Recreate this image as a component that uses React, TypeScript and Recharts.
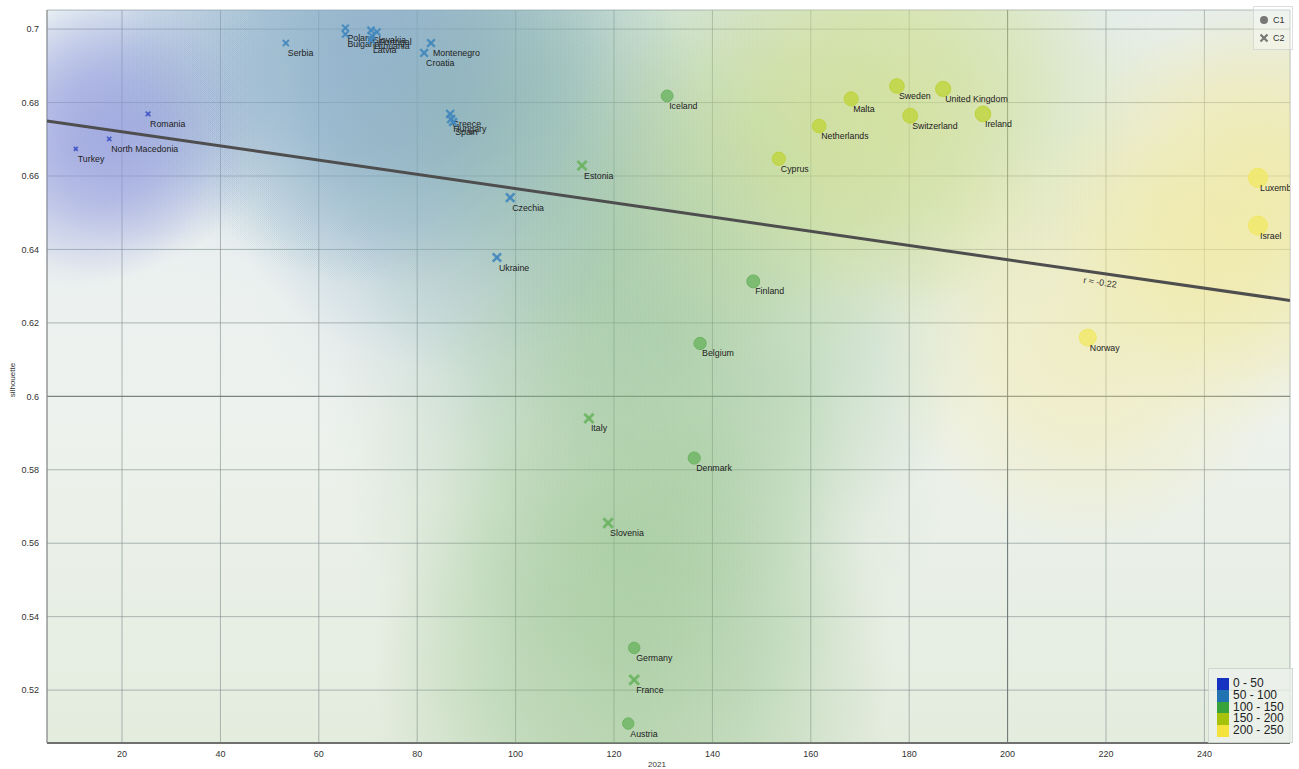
import React from "react";
import {
  ScatterChart,
  Scatter,
  XAxis,
  YAxis,
  CartesianGrid,
  ReferenceLine,
} from "recharts";

// cluster C1 (circles)
const c1Names = [
  "Iceland", "Austria", "Germany", "Denmark", "Belgium", "Finland", "Cyprus",
  "Netherlands", "Malta", "Sweden", "Switzerland", "United Kingdom", "Ireland",
  "Norway", "Luxembourg", "Israel",
];
const c1X = [130.8, 122.9, 124.1, 136.3, 137.5, 148.3, 153.5, 161.7, 168.2, 177.5, 180.2, 186.9, 195.0, 216.3, 250.9, 250.9];
const c1Y = [0.6818, 0.5109, 0.5315, 0.5832, 0.6144, 0.6313, 0.6647, 0.6736, 0.681, 0.6845, 0.6764, 0.6837, 0.6769, 0.616, 0.6595, 0.6465];

// cluster C2 (crosses)
const c2Names = [
  "Turkey", "North Macedonia", "Romania", "Serbia", "Poland", "Bulgaria",
  "Slovakia", "Portugal", "Lithuania", "Latvia", "Montenegro", "Croatia",
  "Greece", "Hungary", "Spain", "Czechia", "Ukraine", "Estonia", "Italy",
  "Slovenia", "France",
];
const c2X = [10.6, 17.4, 25.3, 53.3, 65.4, 65.4, 70.6, 71.8, 70.8, 70.6, 82.8, 81.4, 86.7, 86.9, 87.3, 98.9, 96.2, 113.5, 114.9, 118.8, 124.1];
const c2Y = [0.6674, 0.6701, 0.6769, 0.6962, 0.7003, 0.6986, 0.6997, 0.6992, 0.6981, 0.697, 0.6962, 0.6935, 0.6769, 0.6755, 0.6747, 0.6541, 0.6378, 0.6628, 0.594, 0.5655, 0.5228];

const xTicks = [20, 40, 60, 80, 100, 120, 140, 160, 180, 200, 220, 240];
const yTicks = [0.52, 0.54, 0.56, 0.58, 0.6, 0.62, 0.64, 0.66, 0.68, 0.7];
const X_DOMAIN = [4.75, 257.4];
const Y_DOMAIN = [0.5056, 0.7052];

const binLabels = ["0 - 50", "50 - 100", "100 - 150", "150 - 200", "200 - 250"];

// regression line endpoints and its r label
const trend = [
  { x: 4.75, y: 0.675 },
  { x: 257.4, y: 0.6261 },
];
const rLabel = [{ x: 218.8, y: 0.631, text: "r ≈ -0.22" }];

const SWATCH = ["#1532c0", "#2273b2", "#38a23b", "#a7c20d", "#f4e33c"];
const MARK = ["#3d52c4", "#4287bd", "#6cb462", "#bfd43c", "#f1e866"];
const HALO = [
  { color: "#8c94dc", r: 140, op: 0.4 },
  { color: "#7fa6c2", r: 250, op: 0.14 },
  { color: "#86bb7e", r: 260, op: 0.2 },
  { color: "#cddd88", r: 220, op: 0.2 },
  { color: "#f3e88e", r: 210, op: 0.45 },
];

const binOf = (v: number) => Math.min(4, Math.floor(v / 50));

const c1Data = c1Names.map((name, i) => ({ name, x: c1X[i], y: c1Y[i], bin: binOf(c1X[i]) }));
const c2Data = c2Names.map((name, i) => ({ name, x: c2X[i], y: c2Y[i], bin: binOf(c2X[i]) }));
const allData = [...c2Data, ...c1Data];

const FONT = "'Liberation Sans', Arial, sans-serif";

const radiusOf = (v: number) => 2 + v * 0.03;

const HaloShape = (props: any) => {
  const { cx, cy, payload, index } = props;
  if (cx == null || cy == null) return null;
  const h = HALO[payload.bin];
  const id = `halo-${index}`;
  return (
    <g>
      <defs>
        <radialGradient id={id}>
          <stop offset="0%" stopColor={h.color} stopOpacity={h.op} />
          <stop offset="45%" stopColor={h.color} stopOpacity={h.op * 0.7} />
          <stop offset="100%" stopColor={h.color} stopOpacity={0} />
        </radialGradient>
      </defs>
      <circle cx={cx} cy={cy} r={h.r} fill={`url(#${id})`} />
    </g>
  );
};

const PointLabel = ({ x, y, text }: any) => (
  <text x={x + 2} y={y + 13} fontSize={8.8} fill="#222" fontFamily={FONT}>
    {text}
  </text>
);

const CircleShape = (props: any) => {
  const { cx, cy, payload } = props;
  if (cx == null) return null;
  const r = radiusOf(payload.x);
  const c = MARK[payload.bin];
  return (
    <g>
      <circle cx={cx} cy={cy} r={r} fill={c} fillOpacity={0.8} stroke={c} strokeWidth={1} />
      <PointLabel x={cx} y={cy} text={payload.name} />
    </g>
  );
};

const CrossShape = (props: any) => {
  const { cx, cy, payload } = props;
  if (cx == null) return null;
  const r = radiusOf(payload.x) * 0.85;
  const c = MARK[payload.bin];
  const w = Math.max(1.7, r * 0.62);
  return (
    <g>
      <g stroke={c} strokeWidth={w} strokeOpacity={0.9}>
        <line x1={cx - r} y1={cy - r} x2={cx + r} y2={cy + r} />
        <line x1={cx - r} y1={cy + r} x2={cx + r} y2={cy - r} />
      </g>
      <PointLabel x={cx} y={cy} text={payload.name} />
    </g>
  );
};

const RLabelShape = (props: any) => {
  const { cx, cy, payload } = props;
  if (cx == null) return null;
  return (
    <text
      x={cx}
      y={cy}
      fontSize={9}
      fill="#333"
      fontFamily={FONT}
      textAnchor="middle"
      dominantBaseline="central"
      transform={`rotate(8.2 ${cx} ${cy})`}
    >
      {payload.text}
    </text>
  );
};

const NoShape = () => null;

const fmtY = (v: number) => String(+v.toFixed(2));

const App: React.FC = () => {
  return (
    <div style={{ position: "absolute", left: 0, top: 0, width: 1299, height: 769, background: "#fff", fontFamily: FONT }}>
      {/* plot background */}
      <div
        style={{
          position: "absolute",
          left: 47,
          top: 10,
          width: 1243,
          height: 733,
          background: "linear-gradient(180deg, #e6eef2 0%, #eef2ee 55%, #e4ecde 100%)",
        }}
      />
      <div style={{ position: "absolute", left: 0, top: 0 }}>
        <ScatterChart width={1299} height={769} margin={{ top: 10, right: 9, bottom: 0, left: 0 }}>
          <XAxis
            type="number"
            dataKey="x"
            domain={X_DOMAIN}
            ticks={xTicks}
            allowDataOverflow
            height={26}
            tickLine={false}
            axisLine={{ stroke: "#707070", strokeWidth: 2 }}
            tick={{ fontSize: 9, fill: "#333", fontFamily: FONT }}
          />
          <YAxis
            type="number"
            dataKey="y"
            domain={Y_DOMAIN}
            ticks={yTicks}
            allowDataOverflow
            width={47}
            tickLine={false}
            tickFormatter={fmtY}
            axisLine={{ stroke: "#8a8a8a", strokeWidth: 1 }}
            tick={{ fontSize: 9, fill: "#333", fontFamily: FONT }}
          />
          <CartesianGrid stroke="#7f8c8c" strokeOpacity={0.6} />
          <ReferenceLine x={200} stroke="#5e6666" strokeOpacity={0.8} />
          <ReferenceLine y={0.6} stroke="#5e6666" strokeOpacity={0.8} />
          <Scatter data={allData} shape={HaloShape} isAnimationActive={false} />
          <Scatter
            data={trend}
            shape={NoShape}
            line={{ stroke: "#4e4e4e", strokeWidth: 3 }}
            lineType="joint"
            isAnimationActive={false}
          />
          <Scatter data={c2Data} shape={CrossShape} isAnimationActive={false} />
          <Scatter data={c1Data} shape={CircleShape} isAnimationActive={false} />
          <Scatter data={rLabel} shape={RLabelShape} isAnimationActive={false} />
        </ScatterChart>
      </div>

      {/* axis titles */}
      <div
        style={{
          position: "absolute",
          left: 12,
          top: 380,
          transform: "translate(-50%, -50%) rotate(-90deg)",
          fontSize: 8,
          color: "#333",
        }}
      >
        silhouette
      </div>
      <div style={{ position: "absolute", left: 657, top: 760, transform: "translateX(-50%)", fontSize: 8, color: "#333" }}>
        2021
      </div>

      {/* shape legend */}
      <div
        style={{
          position: "absolute",
          left: 1253,
          top: 6,
          width: 40,
          height: 44,
          background: "rgba(255,255,255,0.35)",
          border: "1px solid rgba(200,200,200,0.6)",
          boxSizing: "border-box",
          fontSize: 9,
          color: "#333",
        }}
      >
        <div style={{ display: "flex", alignItems: "center", height: 18, marginTop: 4, paddingLeft: 5 }}>
          <svg width={10} height={10}>
            <circle cx={5} cy={5} r={4} fill="#777" />
          </svg>
          <span style={{ marginLeft: 4 }}>C1</span>
        </div>
        <div style={{ display: "flex", alignItems: "center", height: 18, paddingLeft: 5 }}>
          <svg width={10} height={10}>
            <g stroke="#777" strokeWidth={2.2}>
              <line x1={1.5} y1={1.5} x2={8.5} y2={8.5} />
              <line x1={1.5} y1={8.5} x2={8.5} y2={1.5} />
            </g>
          </svg>
          <span style={{ marginLeft: 4 }}>C2</span>
        </div>
      </div>

      {/* colour legend */}
      <div
        style={{
          position: "absolute",
          left: 1208,
          top: 668,
          width: 85,
          height: 75,
          background: "rgba(236,242,236,0.75)",
          border: "1px solid rgba(200,210,200,0.8)",
          boxSizing: "border-box",
          paddingTop: 9,
          paddingLeft: 8,
        }}
      >
        {binLabels.map((b, i) => (
          <div key={b} style={{ display: "flex", alignItems: "center", height: 11.8 }}>
            <span style={{ display: "inline-block", width: 12, height: 11.8, background: SWATCH[i] }} />
            <span style={{ marginLeft: 4, fontSize: 12, lineHeight: "11.8px", color: "#222" }}>{b}</span>
          </div>
        ))}
      </div>
    </div>
  );
};

export default App;
